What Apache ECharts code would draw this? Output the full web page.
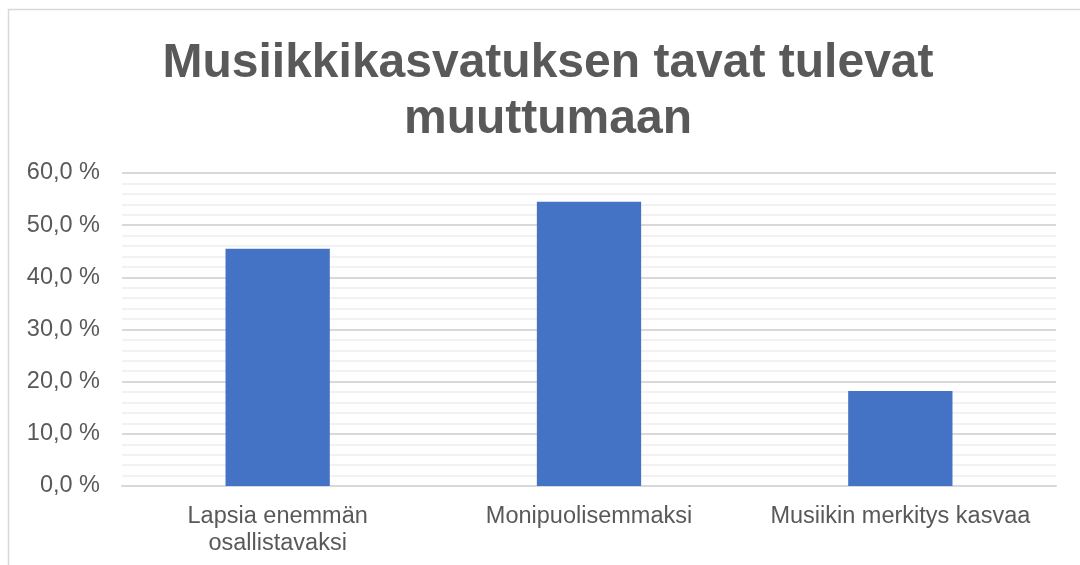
<!DOCTYPE html>
<html lang="fi">
<head>
    <meta charset="UTF-8">
    <title>Musiikkikasvatuksen tavat tulevat muuttumaan</title>
    <script src="https://cdn.jsdelivr.net/npm/echarts@6/dist/echarts.min.js"></script>
    <style>
        * { margin: 0; padding: 0; box-sizing: border-box; }
        body { background: #fff; }
        #chart { width: 1080px; height: 565px; }
    </style>
</head>
<body>
    <div id="chart"></div>
    <script>
        // Kategoriat ja arvot (%)
        const categories = ['Lapsia enemmän\nosallistavaksi', 'Monipuolisemmaksi', 'Musiikin merkitys kasvaa'];
        const values = [45.5, 54.5, 18.2];
        const titleText = 'Musiikkikasvatuksen tavat tulevat\nmuuttumaan';

        const myChart = echarts.init(document.getElementById('chart'));
        const font = '"Liberation Sans", Arial, sans-serif';

        const option = {
            animation: false,
            textStyle: { fontFamily: font },
            graphic: [{
                type: 'rect',
                shape: { x: 8.5, y: 9.5, width: 1100, height: 600 },
                style: { fill: 'none', stroke: '#d9d9d9', lineWidth: 1.5 },
                silent: true
            }],
            title: {
                text: titleText,
                left: 543,
                top: 31,
                textAlign: 'center',
                textStyle: {
                    fontFamily: font,
                    fontSize: 48,
                    fontWeight: 'bold',
                    color: '#595959',
                    lineHeight: 56
                }
            },
            grid: {
                left: 122,
                right: 24,
                top: 173,
                bottom: 79,
                containLabel: false
            },
            xAxis: {
                type: 'category',
                data: categories,
                axisLine: { lineStyle: { color: '#d9d9d9', width: 2 } },
                axisTick: { show: false },
                axisLabel: {
                    color: '#595959',
                    fontSize: 23.5,
                    lineHeight: 27,
                    margin: 17,
                    interval: 0
                }
            },
            yAxis: {
                type: 'value',
                min: 0,
                max: 60,
                interval: 10,
                axisLine: { show: false },
                axisTick: { show: false },
                axisLabel: {
                    color: '#595959',
                    fontSize: 23.5,
                    margin: 22,
                    formatter: v => v.toFixed(1).replace('.', ',') + ' %'
                },
                splitLine: { lineStyle: { color: '#d9d9d9', width: 2 } },
                minorTick: { show: false, splitNumber: 5 },
                minorSplitLine: { show: true, lineStyle: { color: '#f2f2f2', width: 2 } }
            },
            series: [{
                type: 'bar',
                data: values,
                barWidth: '33.5%',
                itemStyle: { color: '#4472c4' }
            }]
        };

        myChart.setOption(option);
    </script>
</body>
</html>
